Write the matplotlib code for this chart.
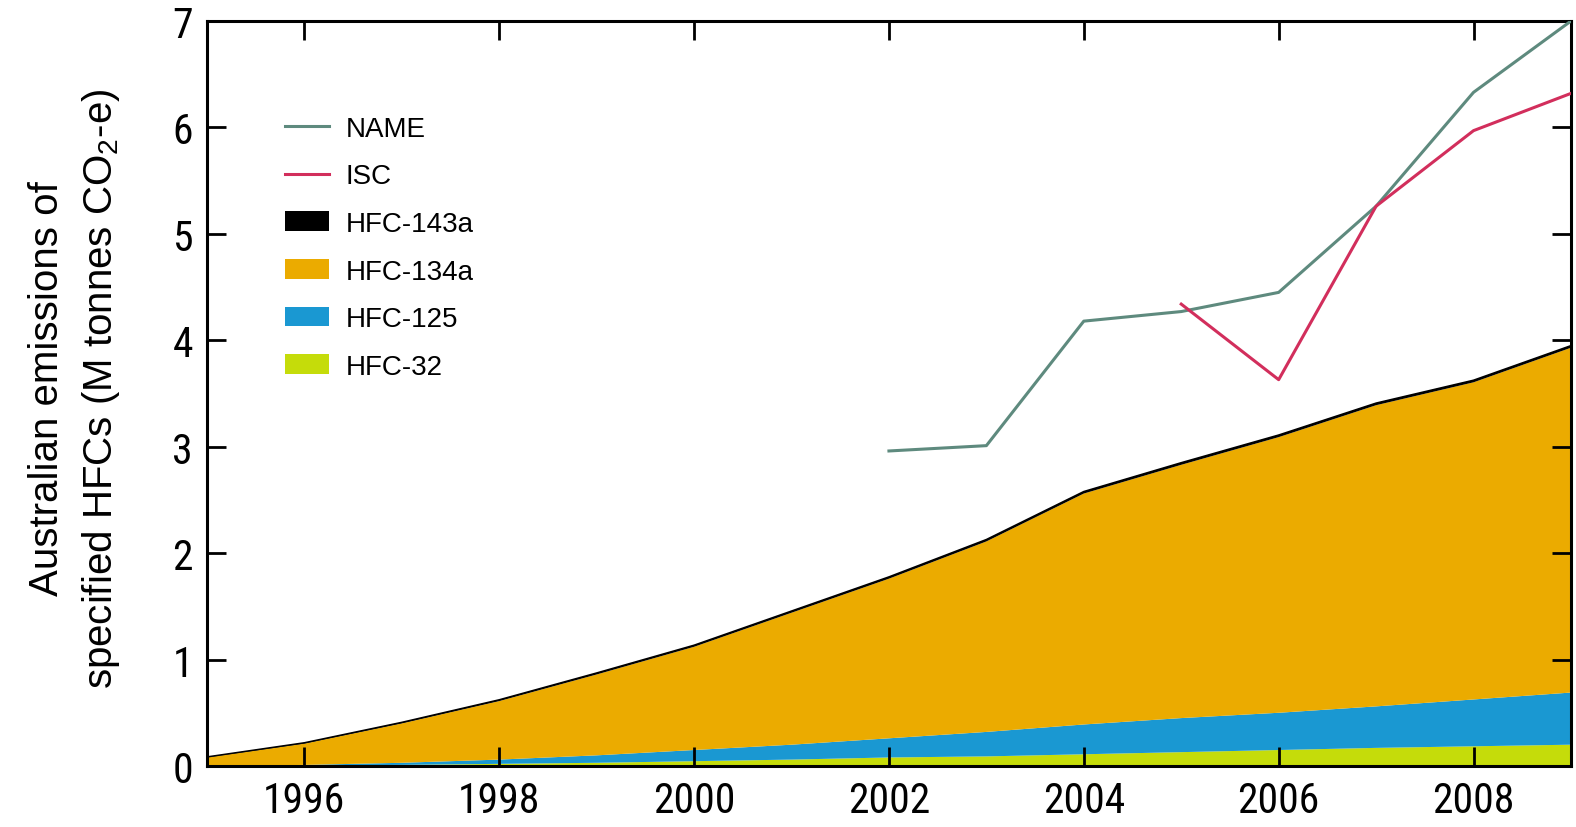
import matplotlib
matplotlib.use("Agg")
import matplotlib.pyplot as plt
from matplotlib import font_manager
from matplotlib.lines import Line2D
from matplotlib.patches import Patch
import numpy as np

plt.rcParams["font.family"] = ["Liberation Sans", "DejaVu Sans"]
plt.rcParams["mathtext.fontset"] = "custom"
plt.rcParams["mathtext.rm"] = "Liberation Sans"
plt.rcParams["mathtext.default"] = "regular"

years = [1995, 1996, 1997, 1998, 1999, 2000, 2001, 2002,
         2003, 2004, 2005, 2006, 2007, 2008, 2009]

# Bottom-up inventory components (M tonnes CO2-e)
hfc32 = [0.0, 0.005, 0.01, 0.02, 0.03, 0.045, 0.06, 0.08,
         0.09, 0.11, 0.13, 0.15, 0.17, 0.185, 0.20]
hfc125 = [0.0, 0.005, 0.02, 0.04, 0.07, 0.105, 0.14, 0.18,
          0.23, 0.28, 0.32, 0.35, 0.39, 0.44, 0.49]
hfc134a = [0.08, 0.20, 0.37, 0.55, 0.76, 0.97, 1.24, 1.50,
           1.79, 2.17, 2.38, 2.59, 2.83, 2.98, 3.24]
hfc143a = [0.005, 0.008, 0.01, 0.012, 0.014, 0.015, 0.016, 0.017,
           0.018, 0.019, 0.02, 0.02, 0.02, 0.02, 0.02]

# Top-down estimates
name_years = [2002, 2003, 2004, 2005, 2006, 2007, 2008, 2009]
name_vals = [2.96, 3.01, 4.18, 4.27, 4.45, 5.26, 6.33, 7.0]
isc_years = [2005, 2006, 2007, 2008, 2009]
isc_vals = [4.34, 3.63, 5.26, 5.97, 6.32]

legend_labels = ["NAME", "ISC", "HFC-143a", "HFC-134a", "HFC-125", "HFC-32"]

c32 = "#C5DC0A"
c125 = "#1A98D2"
c134a = "#EBAB00"
c143a = "#000000"
c_name = "#5E8A7E"
c_isc = "#D22E5C"

# Narrow sans-serif for the tick numbers, if one is available
available = {f.name for f in font_manager.fontManager.ttflist}
narrow_candidates = ["Liberation Sans Narrow", "Arial Narrow", "Roboto Condensed",
                     "Pragati Narrow", "Archivo Narrow", "PT Sans Narrow"]
tick_family = [n for n in narrow_candidates if n in available][:1] + ["Liberation Sans"]

fig = plt.figure(figsize=(15.76, 8.28), dpi=100)
ax = fig.add_axes([0.1313, 0.0737, 0.8655, 0.8997])

ax.stackplot(years, hfc32, hfc125, hfc134a, hfc143a,
             colors=[c32, c125, c134a, c143a], linewidth=0)
top = np.sum([hfc32, hfc125, hfc134a, hfc143a], axis=0)
ax.plot(years, top, color="black", lw=1.1, zorder=3)

ax.plot(name_years, name_vals, color=c_name, lw=2.2, zorder=4)
ax.plot(isc_years, isc_vals, color=c_isc, lw=2.2, zorder=4)

ax.set_xlim(1995, 2009)
ax.set_ylim(0, 7)
ax.set_xticks(range(1996, 2009, 2))
ax.set_yticks(range(0, 8))

ax.tick_params(direction="in", length=14, width=2, top=True, right=True,
               labelsize=30, pad=10)
for lab in ax.get_xticklabels() + ax.get_yticklabels():
    lab.set_family(tick_family)
for sp in ax.spines.values():
    sp.set_linewidth(2.2)

ax.set_ylabel("Australian emissions of\nspecified HFCs (M tonnes CO$_2$-e)",
              fontsize=29, linespacing=1.45)
ax.yaxis.set_label_coords(-0.062, 0.508)

handles = [
    Line2D([0], [0], color=c_name, lw=2.2),
    Line2D([0], [0], color=c_isc, lw=2.2),
    Patch(facecolor=c143a, edgecolor="none"),
    Patch(facecolor=c134a, edgecolor="none"),
    Patch(facecolor=c125, edgecolor="none"),
    Patch(facecolor=c32, edgecolor="none"),
]
ax.legend(handles, legend_labels, loc="upper left", bbox_to_anchor=(0.049, 0.888),
          frameon=False, fontsize=20, handlelength=1.6, handleheight=0.7,
          labelspacing=0.78, handletextpad=0.6, borderaxespad=0)

fig.savefig("out.png", dpi=100)
